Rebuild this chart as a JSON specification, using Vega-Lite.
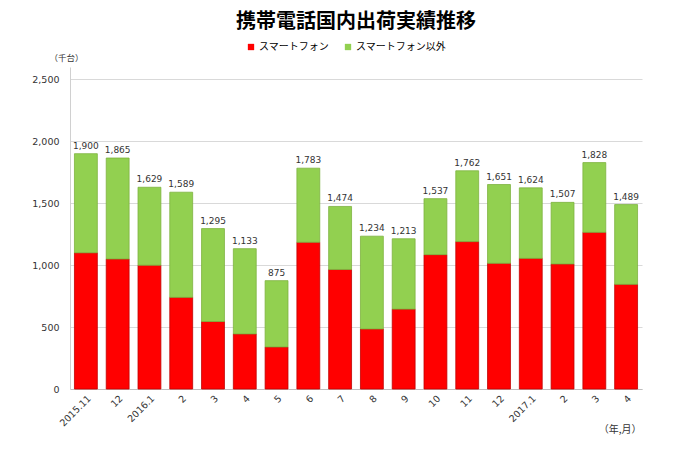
{
  "$schema": "https://vega.github.io/schema/vega-lite/v6.json",
  "width": 572,
  "height": 322,
  "autosize": {"type": "none"},
  "padding": {"left": 70, "top": 67, "right": 41, "bottom": 82},
  "background": "white",
  "title": {
    "text": "携帯電話国内出荷実績推移",
    "font": "Noto Sans CJK JP",
    "fontSize": 20,
    "fontWeight": "bold",
    "color": "#000000",
    "anchor": "middle",
    "frame": "group",
    "offset": 10
  },
  "data": {
    "values": [
      {"m": "2015.11", "t": "スマートフォン", "v": 1100},
      {"m": "2015.11", "t": "スマートフォン以外", "v": 800},
      {"m": "2015.12", "t": "スマートフォン", "v": 1050},
      {"m": "2015.12", "t": "スマートフォン以外", "v": 815},
      {"m": "2016.1", "t": "スマートフォン", "v": 1000},
      {"m": "2016.1", "t": "スマートフォン以外", "v": 629},
      {"m": "2016.2", "t": "スマートフォン", "v": 740},
      {"m": "2016.2", "t": "スマートフォン以外", "v": 849},
      {"m": "2016.3", "t": "スマートフォン", "v": 545},
      {"m": "2016.3", "t": "スマートフォン以外", "v": 750},
      {"m": "2016.4", "t": "スマートフォン", "v": 445},
      {"m": "2016.4", "t": "スマートフォン以外", "v": 688},
      {"m": "2016.5", "t": "スマートフォン", "v": 340},
      {"m": "2016.5", "t": "スマートフォン以外", "v": 535},
      {"m": "2016.6", "t": "スマートフォン", "v": 1185},
      {"m": "2016.6", "t": "スマートフォン以外", "v": 598},
      {"m": "2016.7", "t": "スマートフォン", "v": 965},
      {"m": "2016.7", "t": "スマートフォン以外", "v": 509},
      {"m": "2016.8", "t": "スマートフォン", "v": 485},
      {"m": "2016.8", "t": "スマートフォン以外", "v": 749},
      {"m": "2016.9", "t": "スマートフォン", "v": 645},
      {"m": "2016.9", "t": "スマートフォン以外", "v": 568},
      {"m": "2016.10", "t": "スマートフォン", "v": 1085},
      {"m": "2016.10", "t": "スマートフォン以外", "v": 452},
      {"m": "2016.11", "t": "スマートフォン", "v": 1190},
      {"m": "2016.11", "t": "スマートフォン以外", "v": 572},
      {"m": "2016.12", "t": "スマートフォン", "v": 1015},
      {"m": "2016.12", "t": "スマートフォン以外", "v": 636},
      {"m": "2017.1", "t": "スマートフォン", "v": 1055},
      {"m": "2017.1", "t": "スマートフォン以外", "v": 569},
      {"m": "2017.2", "t": "スマートフォン", "v": 1010},
      {"m": "2017.2", "t": "スマートフォン以外", "v": 497},
      {"m": "2017.3", "t": "スマートフォン", "v": 1265},
      {"m": "2017.3", "t": "スマートフォン以外", "v": 563},
      {"m": "2017.4", "t": "スマートフォン", "v": 845},
      {"m": "2017.4", "t": "スマートフォン以外", "v": 644}
    ]
  },
  "encoding": {
    "x": {
      "field": "m",
      "type": "ordinal",
      "sort": null,
      "scale": {"paddingInner": 0.28, "paddingOuter": 0.14},
      "axis": {
        "title": "（年,月）",
        "titleFont": "Noto Sans CJK JP",
        "titleFontSize": 10,
        "titleFontWeight": "normal",
        "titleColor": "#333333",
        "titleAlign": "right",
        "titleAnchor": "end",
        "titleX": 571,
        "titleY": 35,
        "labelAngle": -45,
        "labelFont": "DejaVu Sans",
        "labelFontSize": 9.5,
        "labelColor": "#333333",
        "labelExpr": "(datum.value == '2015.11' || datum.value == '2016.1' || datum.value == '2017.1') ? datum.value : split(datum.value, '.')[1]",
        "ticks": false,
        "labelPadding": 4,
        "domainColor": "#BFBFBF",
        "grid": false
      }
    }
  },
  "layer": [
    {
      "mark": {"type": "bar", "strokeWidth": 0.8},
      "encoding": {
        "y": {
          "field": "v",
          "type": "quantitative",
          "aggregate": "sum",
          "stack": "zero",
          "scale": {"domain": [0, 2500]},
          "axis": {
            "values": [0, 500, 1000, 1500, 2000, 2500],
            "format": ",d",
            "title": "（千台）",
            "titleFont": "Noto Sans CJK JP",
            "titleFontSize": 8.5,
            "titleFontWeight": "normal",
            "titleColor": "#333333",
            "titleAngle": 0,
            "titleAlign": "center",
            "titleX": -4,
            "titleY": -5,
            "labelFont": "DejaVu Sans",
            "labelFontSize": 9.5,
            "labelColor": "#333333",
            "labelPadding": 11,
            "ticks": false,
            "domainColor": "#D0D0D0",
            "gridColor": "#D9D9D9",
            "gridWidth": 1
          }
        },
        "color": {
          "field": "t",
          "type": "nominal",
          "scale": {
            "domain": ["スマートフォン", "スマートフォン以外"],
            "range": ["#FF0000", "#92D050"]
          },
          "legend": {
            "title": null,
            "orient": "none",
            "direction": "horizontal",
            "legendX": 176,
            "legendY": -25,
            "symbolType": "square",
            "symbolSize": 40,
            "symbolStrokeWidth": 0,
            "labelFont": "Noto Sans CJK JP",
            "labelFontSize": 10,
            "labelColor": "#000000",
            "columnPadding": 14,
            "labelOffset": 3
          }
        },
        "stroke": {
          "field": "t",
          "type": "nominal",
          "scale": {
            "domain": ["スマートフォン", "スマートフォン以外"],
            "range": ["#C00000", "#7DB23F"]
          },
          "legend": null
        },
        "order": {"field": "t", "sort": "ascending"}
      }
    },
    {
      "transform": [
        {"aggregate": [{"op": "sum", "field": "v", "as": "total"}], "groupby": ["m"]}
      ],
      "mark": {"type": "text", "dy": -8, "font": "DejaVu Sans", "fontSize": 9, "color": "#333333"},
      "encoding": {
        "y": {"field": "total", "type": "quantitative"},
        "text": {"field": "total", "type": "quantitative", "format": ","}
      }
    }
  ],
  "config": {
    "view": {"stroke": null}
  }
}
